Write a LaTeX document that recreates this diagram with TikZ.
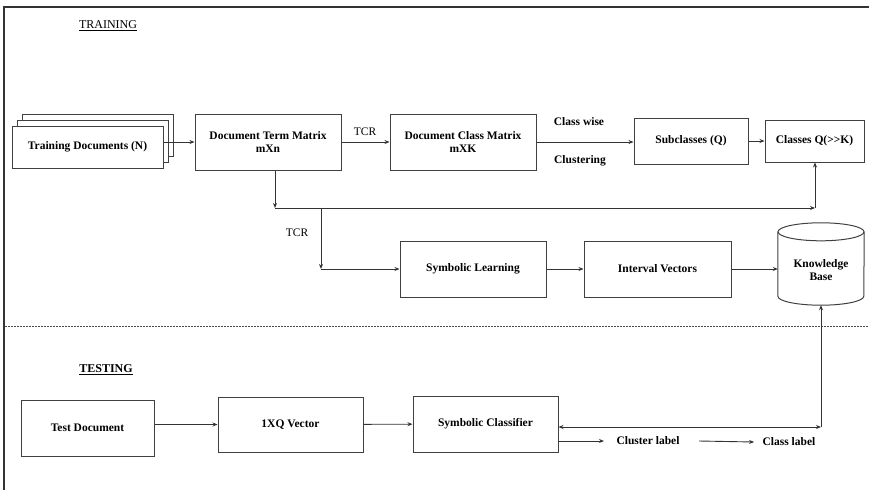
\documentclass[tikz,border=0pt]{standalone}
\usepackage{fontspec}
\setmainfont{Liberation Serif}
\usetikzlibrary{arrows.meta,shadows}

\begin{document}
\begin{tikzpicture}[x=1pt, y=-1pt,
  box/.style={draw=black!75, line width=1pt, fill=white, align=center,
    inner sep=2pt, font=\fontsize{11.5}{13}\selectfont\bfseries},
  lbl/.style={font=\fontsize{11.5}{13}\selectfont\bfseries},
  txt/.style={font=\fontsize{11.5}{13}\selectfont},
  arr/.style={draw=black!80, line width=0.9pt, -{Stealth[length=5pt,width=4pt]}},
  arrboth/.style={draw=black!80, line width=0.9pt,
    {Stealth[length=5pt,width=4pt]}-{Stealth[length=5pt,width=4pt]}},
  ]
  \useasboundingbox (0,0) rectangle (869,490);
  % frame
  \draw[black!80, line width=1.5pt] (4,490) -- (4,7) -- (869,7);
  % section titles
  \node[font=\fontsize{12}{14}\selectfont] (trainhead) at (108,26) {\underline{TRAINING}};
  \node[font=\fontsize{12}{14}\selectfont\bfseries] (testhead) at (106,370) {\underline{TESTING}};
  % training row
  \node[box, minimum width=151pt, minimum height=42pt,
    copy shadow={shadow xshift=10pt, shadow yshift=12pt, draw=black!75, line width=1pt},
    copy shadow={shadow xshift=5pt, shadow yshift=6pt, draw=black!75, line width=1pt}]
    (train) at (87.5,147) {Training Documents (N)};
  \node[box, minimum width=146pt, minimum height=56pt] (dtm) at (268,142) {Document Term Matrix\\mXn};
  \node[box, minimum width=146pt, minimum height=56pt] (dcm) at (463,142) {Document Class Matrix\\mXK};
  \node[box, minimum width=114pt, minimum height=46pt] (sub) at (691,141) {Subclasses (Q)};
  \node[box, minimum width=99pt, minimum height=42pt] (cls) at (814.5,141) {Classes Q(>{}>K)};
  % learning row
  \node[box, minimum width=146pt, minimum height=56pt] (sl) at (473,269) {Symbolic Learning};
  \node[box, minimum width=147pt, minimum height=56pt] (iv) at (657.5,269) {Interval Vectors};
  \node[lbl, align=center, minimum width=86pt, minimum height=70pt, inner sep=0pt] (kb) at (821,270) {Knowledge\\Base};
  % knowledge base cylinder
  \draw[black!75, line width=1pt] ([yshift=3pt]kb.north west) -- ([yshift=9pt]kb.south west)
    arc[start angle=180, end angle=360, x radius=43pt, y radius=9pt] -- ([yshift=3pt]kb.north east);
  \draw[black!75, line width=1pt] ([yshift=3pt]kb.north) ellipse [x radius=43pt, y radius=9pt];
  % edge labels
  \node[txt] (tcra) at (365,132) {TCR};
  \node[lbl] (cwise) at (579,122) {Class wise};
  \node[lbl] (clus) at (580,161) {Clustering};
  \node[txt] (tcrb) at (297,233) {TCR};
  % bends
  \coordinate (c1) at (275,208);
  \coordinate (c2) at (815,208);
  \coordinate (c3) at (321,208);
  \coordinate (c4) at (321,269);
  \coordinate (c5) at (821,427);
  % training arrows
  \draw[arr] (train.east |- dtm.west) -- (dtm.west);
  \draw[arr] (dtm) -- (dcm);
  \draw[arr] (dcm.east) -- (dcm.east -| sub.west);
  \draw[arr] (sub) -- (cls);
  \draw[arr] (dtm.south -| c1) -- (c1);
  \draw[arr] (c1) -- (c2);
  \draw[arr] (c2) -- (cls.south -| c2);
  \draw[arr] (c3) -- (c4);
  \draw[arr] (c4) -- (sl.west);
  \draw[arr] (sl) -- (iv);
  \draw[arr] (iv.east) -- (iv.east -| kb.west);
  % separator
  \draw[black!70, line width=1pt, dash pattern=on 1.5pt off 1.5pt] (5,326) -- (869,326);
  % testing row
  \node[box, minimum width=133pt, minimum height=56pt] (td) at (87.5,428) {Test Document};
  \node[box, minimum width=145pt, minimum height=55pt] (xq) at (290.5,424.5) {1XQ Vector};
  \node[box, minimum width=145pt, minimum height=56pt] (sc) at (485.5,424) {Symbolic Classifier};
  \node[lbl] (clab) at (648,441) {Cluster label};
  \node[lbl] (clsab) at (789,442) {Class label};
  % testing arrows
  \draw[arr] (td.east |- xq.west) -- (xq.west);
  \draw[arr] (xq) -- (sc);
  \draw[arrboth] (sc.east |- c5) -- (c5);
  \draw[arr] (c5) -- (kb.south);
  \draw[arr] (sc.east |- clab.west) -- ([xshift=-9pt]clab.west);
  \draw[arr] ([xshift=16pt]clab.east) -- ([xshift=-5pt]clsab.west);
\end{tikzpicture}
\end{document}
